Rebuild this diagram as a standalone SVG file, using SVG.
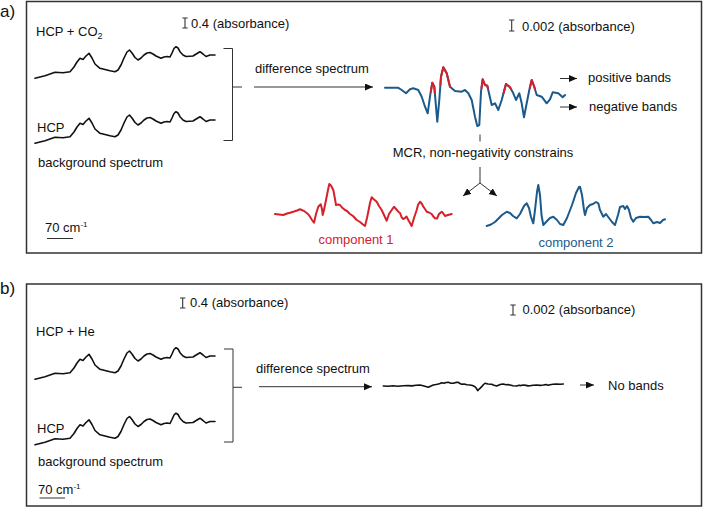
<svg xmlns="http://www.w3.org/2000/svg" xmlns:xlink="http://www.w3.org/1999/xlink" width="704" height="516" viewBox="0 0 704 516">
<style>
.t{font-family:"Liberation Sans",Arial,sans-serif;font-size:13px;fill:#111}
.lbl{font-family:"Liberation Sans",Arial,sans-serif;font-size:17px;fill:#111}
.box{fill:none;stroke:#333;stroke-width:1.5}
.spec{fill:none;stroke:#111;stroke-width:1.6;stroke-linejoin:round;stroke-linecap:round}
.blue{fill:none;stroke:#1c5a8c;stroke-width:2;stroke-linejoin:round;stroke-linecap:round}
.red{fill:none;stroke:#d6202a;stroke-width:2;stroke-linejoin:round;stroke-linecap:round}
.ln{fill:none;stroke:#333;stroke-width:1}
.ibar{fill:none;stroke:#333;stroke-width:1.1}
</style>
<defs>
<marker id="ah" markerUnits="userSpaceOnUse" markerWidth="9" markerHeight="8" refX="8" refY="3.5" orient="auto">
<path d="M0,0 L8,3.5 L0,7 z" fill="#111"/>
</marker>
<polyline id="hcp" points="35,78.3 45,75.7 55,72.3 63,72.7 70,71.7 74,67 77,62 80,58.3 83,59.5 86,56 89,53.3 92,58 95,64 100,68.3 110,70.7 115,71.7 118,70 121,65 124,58 127,52 129.5,50 132,53 135,57.5 138,60 141,58 144,55 147,53 150,52.5 153,54 156,56 161,58.3 164,57 167,56.5 170,57 172,53 174,48.5 176,46.7 178,48 180,51.7 183,55 186,56.5 193,56 197,53.5 200,51.7 203,54 206,56.5 210,55 215,55"/>
</defs>

<g id="panel-a">
<text class="lbl" x="0" y="17">a)</text>
<rect class="box" x="26.5" y="1.5" width="675" height="251.5"/>
</g>

<g id="a-sample">
<text class="t" x="36" y="36">HCP + CO<tspan font-size="9" dy="3">2</tspan></text>
<use xlink:href="#hcp" class="spec"/>
</g>
<g id="a-background">
<text class="t" x="37" y="132">HCP</text>
<use xlink:href="#hcp" class="spec" transform="translate(0,65)"/>
<text class="t" x="38" y="167">background spectrum</text>
</g>
<g id="a-scale">
<path class="ibar" d="M182.3,18 h5.4 M185,18 V28 M182.3,28 h5.4"/>
<text class="t" x="191" y="27.5">0.4 (absorbance)</text>
<path class="ibar" d="M509,20 h5.4 M511.7,20 V31 M509,31 h5.4"/>
<text class="t" x="522" y="30.5">0.002 (absorbance)</text>
<text class="t" x="45" y="232">70 cm<tspan font-size="8" dy="-5">-1</tspan></text>
<path class="ln" d="M47,238.5 H73" stroke-width="1.3"/>
</g>
<g id="a-bracket">
<path class="ln" d="M223.5,48.5 H232.5 V140.5 H223.5 M232.5,87 H242" stroke-width="1.3"/>
</g>
<g id="a-diff-label">
<text class="t" x="255" y="73">difference spectrum</text>
</g>
<g id="a-difference">
<polyline class="blue" points="385,87.7 398,87.7 401.7,90 406,93.3 410,89.3 413.3,88.3 418.3,90 421.7,96.7 425,106.7 427.7,113.3 430,96.7 432.3,82.7 434.3,86.7 436,106.7 437.3,121.7 439.3,100 441,76.7 443.3,67.3 446.7,73.3 450,86.7 455,91 461.7,91.7 465,90 468.3,93.3 471.7,100 475,116.7 477.3,126 479.3,125 481,91.7 482.7,79.3 485,85 487.3,85.7 489,93.3 491.7,105 495,103.3 498.3,110 501.7,100 506,84 510,87.3 513.3,93.3 516,100 519.3,93.3 521.7,103.3 524,117.3 526.7,103.3 529.3,90 531.7,80 534,86 536.7,95 541.7,96.7 546.7,103.3 550,99.3 552.7,92.3 558.3,93.3 562.7,97.3 565,95"/>
<polyline class="red" points="430.8,91.8 432.3,82.7 434.3,86.7 434.8,92.6"/>
<polyline class="red" points="440.4,84.9 441,76.7 443.3,67.3 446.7,73.3 450,86.7"/>
<polyline class="red" points="481.5,88 482.7,79.3 485,85 487.3,85.7 488,88.8"/>
<polyline class="red" points="503.5,93.3 506,84 510,87.3 511,89.1"/>
<polyline class="red" points="529.8,87.9 531.7,80 534,86 535,89.3"/>
</g>
<g id="a-bands">
<text class="t" x="588" y="82">positive bands</text>
<text class="t" x="589" y="111">negative bands</text>
</g>
<g id="a-mcr">
<text class="t" x="483" y="157" text-anchor="middle">MCR, non-negativity constrains</text>
</g>
<g id="a-component1">
<polyline class="red" points="275,214 279,214.5 283.3,215 287,213.5 290,212.7 294,211.5 297,210.5 300,209.3 303,210.5 305,211.7 308,214 310,216.7 312,220 314,222.7 316,214 318.3,206.7 320.7,204.3 322,209 322.7,215 324,210 326,200 328,190 329.3,184 331,185.5 333.3,190 335,199 336,205 338,204.5 340,205 342,207.5 345,210 347,211 350,214 353,216 356.7,220 360,222 363,224.5 365,226 367,218 368.3,211.7 370,203 371.7,197.3 374,199.5 376.7,201.7 379,206 381.7,210 384,215 386.7,220.7 389,214 391.7,210 394,206.7 396,209 398.3,211.7 400,213 401.7,217.3 403,219 405,218 406.5,216.5 408.3,220 410,223 411.7,226 414,218 416.7,210 418,205 420,201.7 422,204 423.3,206.7 425,209 426.7,211.7 429,212.5 431.7,214 433,216 435,218.3 437,218.5 439,214 441.7,211.7 443,213 445,216 448,215 451.7,214"/>
<text class="t" x="356" y="244" text-anchor="middle" style="fill:#d6202a">component 1</text>
</g>
<g id="a-component2">
<polyline class="blue" points="486.7,226 491,224.5 495,222 499,218 502,215 506.7,211.7 510,213 513,216 516.7,218.3 520,214 524,206 526.7,203.3 529,208 531,217 533.3,223.3 535,210 537,192 538.3,185 540,195 541.5,215 543.3,225 547,221 550,218 553.3,216.7 557,220 560,224 563.3,225 567,218 572,205 576,193 579,187 580,186.7 582,195 584,210 585,215 587,208 590,205 593,204 596,202 598.3,203.3 600,210 603.3,216.7 606,214 609,218 612,222 615,225 618,215 620,207 623.3,206 625,209 627,206 629,210 631,218 633.3,221.7 636,218 640,216.7 644,217 648.3,216.7 651,220 653.3,223.3 657,222 660,223 663,220 665,219.3"/>
<text class="t" x="576" y="247" text-anchor="middle" style="fill:#1c5a8c">component 2</text>
</g>

<g id="panel-b">
<text class="lbl" x="0" y="294">b)</text>
<rect class="box" x="26.5" y="284" width="675" height="222"/>
</g>
<g id="b-sample">
<text class="t" x="36" y="336">HCP + He</text>
<use xlink:href="#hcp" class="spec" transform="translate(0,301)"/>
</g>
<g id="b-background">
<text class="t" x="37" y="433">HCP</text>
<use xlink:href="#hcp" class="spec" transform="translate(0,366.5)"/>
<text class="t" x="38" y="466">background spectrum</text>
</g>
<g id="b-scale">
<path class="ibar" d="M180,298 h5.4 M182.7,298 V308 M180,308 h5.4"/>
<text class="t" x="190" y="307">0.4 (absorbance)</text>
<path class="ibar" d="M510.3,305 h5.4 M513,305 V315 M510.3,315 h5.4"/>
<text class="t" x="522.5" y="314">0.002 (absorbance)</text>
<text class="t" x="38" y="494">70 cm<tspan font-size="8" dy="-5">-1</tspan></text>
<path class="ln" d="M39.5,498 H65" stroke-width="1.3"/>
</g>
<g id="b-bracket">
<path class="ln" d="M224,349 H233 V442 H224 M233,387.3 H242" stroke-width="1.3"/>
</g>
<g id="b-diff-label">
<text class="t" x="256" y="372.5">difference spectrum</text>
</g>
<g id="b-difference">
<polyline class="spec" stroke-width="1.3" points="383.3,386 388,386.3 393,385.8 398,386.2 403.3,385.7 408,385.6 412,385.9 416,385.2 420,385 424,386 428.3,387.3 431,386 433.3,385 436,384.5 438.3,384 440,383.5 441.7,382.7 444,383.3 446,382.5 448.3,382.3 451,383.2 453.3,383.3 456,382.4 458.3,382.3 460,383.5 461.7,384.3 464,384 467,384.7 470,385 472.5,385.5 475,386.7 476.5,388.5 477.7,390.7 479.5,388.8 481.7,386.7 483.5,384.5 485,383.3 488,384 491.7,384.3 494,385.2 496.7,386 499,385 501,384.3 503.3,384 506,384.8 508,384.6 510,385 513,385.7 516.7,386 519,385.3 521,385.6 523.3,385 526,385.4 528,385.9 530,385.7 533,385.2 536.7,385 540,385.4 543.3,385 546,384.6 548,385.3 550,384.7 553,384.3 556.7,384 560,384.2 563.3,384"/>
</g>
<g id="b-bands">
<text class="t" x="608" y="389.5">No bands</text>
</g>

<g id="connectors">
<line class="ln" x1="254" y1="87" x2="373" y2="87" marker-end="url(#ah)"/>
<line class="ln" x1="560" y1="78.5" x2="577" y2="78.5" marker-end="url(#ah)"/>
<line class="ln" x1="560" y1="107" x2="577" y2="107" marker-end="url(#ah)"/>
<line class="ln" x1="480" y1="134.5" x2="480" y2="141.5"/>
<line class="ln" x1="480" y1="167" x2="480" y2="183"/>
<line class="ln" x1="480" y1="183" x2="463" y2="196" marker-end="url(#ah)"/>
<line class="ln" x1="480" y1="183" x2="497" y2="196" marker-end="url(#ah)"/>
<line class="ln" x1="259" y1="386.7" x2="372" y2="386.7" marker-end="url(#ah)"/>
<line class="ln" x1="580" y1="385" x2="594" y2="385" marker-end="url(#ah)"/>
</g>
</svg>
